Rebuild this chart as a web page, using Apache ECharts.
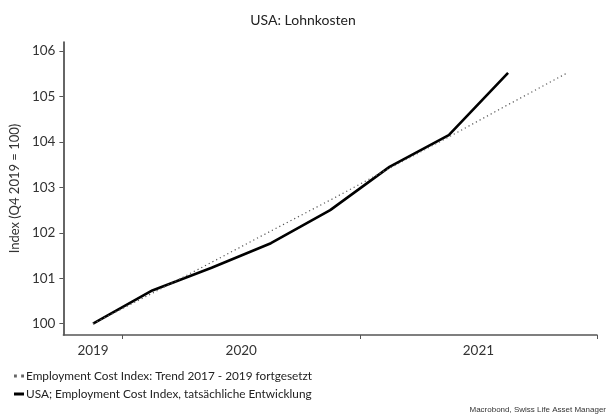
<!DOCTYPE html>
<html>
<head>
<meta charset="utf-8">
<script src="https://cdn.jsdelivr.net/npm/echarts@6/dist/echarts.min.js"></script>
<style>
html,body{margin:0;padding:0;background:#fff;}
#c{width:606px;height:420px;}
</style>
</head>
<body>
<div id="c"></div>
<script>
// Quarters (x = quarter index, band centre at index + 0.5 on the axis)
var quarters = ['Q4 2019','Q1 2020','Q2 2020','Q3 2020','Q4 2020','Q1 2021','Q2 2021','Q3 2021','Q4 2021'];
var actualValues = [100.0, 100.73, 101.23, 101.77, 102.5, 103.45, 104.15, 105.52];
var trendValues = [100.0, 100.67, 101.35, 102.04, 102.72, 103.42, 104.11, 104.82, 105.52];
var yearLabels = ['2019', '2020', '2021'];
var yearLabelAt = [0.5, 3, 7];   // quarter-axis positions of the year labels
var yearTickAt = [1, 5, 9];      // year boundaries
var yTicks = [100, 101, 102, 103, 104, 105, 106];

var seriesNames = ['Employment Cost Index: Trend 2017 - 2019 fortgesetzt',
                   'USA; Employment Cost Index, tatsächliche Entwicklung'];

function toPairs(vals){ return vals.map(function(v,i){ return [i + 0.5, v]; }); }

var FONT = 'Lato';
var chart = echarts.init(document.getElementById('c'), null, {renderer:'canvas'});
chart.setOption({
  backgroundColor:'#fff',
  animation:false,
  title:{
    text:'USA: Lohnkosten', left:'center', top:8,
    textStyle:{fontFamily:FONT, fontSize:14, fontWeight:'normal', color:'#222'}
  },
  grid:{left:57, right:9, top:42, bottom:85},
  xAxis:{
    type:'value', min:0, max:quarters.length,
    splitLine:{show:false},
    axisLine:{show:true, lineStyle:{color:'#555', width:1.5}},
    axisTick:{show:true, customValues:yearTickAt, length:4, lineStyle:{color:'#555'}},
    axisLabel:{
      customValues:yearLabelAt, margin:9,
      fontFamily:FONT, fontSize:13.5, color:'#333',
      formatter:function(v){ var i = yearLabelAt.indexOf(v); return i>=0 ? yearLabels[i] : ''; }
    }
  },
  yAxis:{
    type:'value', min:99.75, max:106.2,
    name:'Index (Q4 2019 = 100)', nameLocation:'middle', nameGap:37,
    nameTextStyle:{fontFamily:FONT, fontSize:13, color:'#333'},
    splitLine:{show:false},
    axisLine:{show:true, lineStyle:{color:'#333', width:1.5}},
    axisTick:{show:true, customValues:yTicks, length:4, lineStyle:{color:'#555'}},
    axisLabel:{customValues:yTicks, margin:8, fontFamily:FONT, fontSize:13.5, color:'#333'}
  },
  legend:{
    orient:'vertical', left:9, top:365, itemGap:6, itemWidth:10, itemHeight:3,
    textStyle:{fontFamily:FONT, fontSize:11.8, color:'#222', padding:[0,0,0,-3]},
    data:[
      {name:seriesNames[0], icon:'path://M0,0h2v2h-2zM5,0h2v2h-2z', itemStyle:{color:'#666'}},
      {name:seriesNames[1], icon:'rect', itemStyle:{color:'#000'}}
    ]
  },
  series:[
    {
      name:seriesNames[0], type:'line', symbol:'none',
      data:toPairs(trendValues),
      lineStyle:{color:'#555', width:1.2, type:[1.2,3]},
      itemStyle:{color:'#555'},
      z:3
    },
    {
      name:seriesNames[1], type:'line', symbol:'none',
      data:toPairs(actualValues),
      lineStyle:{color:'#000', width:2.6},
      itemStyle:{color:'#000'},
      z:2
    }
  ],
  graphic:[{
    type:'text', right:-4, bottom:6,
    style:{text:'Macrobond, Swiss Life Asset Managers', font:'8px "Liberation Sans", Arial', fill:'#333'}
  }]
});
</script>
</body>
</html>
